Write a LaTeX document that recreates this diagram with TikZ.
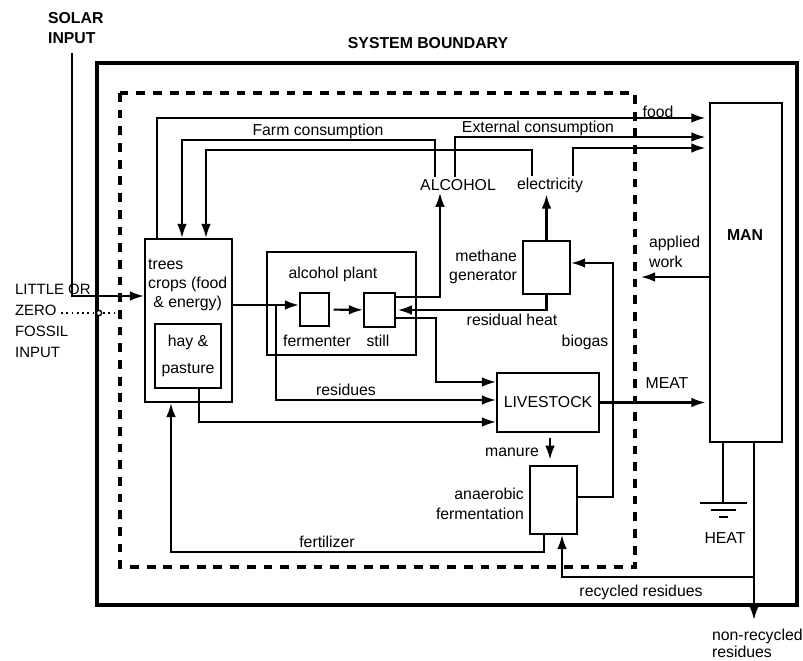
\documentclass[tikz,border=0pt]{standalone}
\usepackage{fontspec}
\setmainfont{Liberation Sans}
\usetikzlibrary{positioning,arrows.meta,calc}

\tikzset{
  box/.style={draw, line width=1.2pt, inner sep=0pt},
  lbl/.style={font=\fontsize{9}{11}\selectfont, inner sep=1pt},
  caps/.style={font=\fontsize{9}{11}\selectfont\bfseries, inner sep=1pt},
  link/.style={line width=1.2pt},
  flow/.style={line width=1.2pt, -{Latex[length=8pt,width=5.5pt]}},
}

\begin{document}
\begin{tikzpicture}[x=0.02cm, y=-0.02cm]
			\useasboundingbox (0,0) rectangle (803,661);
			% boundaries
			\draw[line width=2pt] (97,63) rectangle (797,605);
			\draw[line width=2pt, dash pattern=on 5pt off 4.5pt] (120,93) rectangle (635,567);
			\node[caps] (sysb) at (428,43) {SYSTEM BOUNDARY};
			\node[caps, align=left, anchor=west] (solar) at (46,28) {SOLAR\\INPUT};
			\node[lbl, font=\fontsize{8.5}{12}\selectfont, align=left, anchor=west] (fossil) at (13,321) {LITTLE OR\\ZERO\\FOSSIL\\INPUT};

			% boxes
			\node[box, minimum width=1.74cm, minimum height=3.26cm] (crops) at (188.5,320.5) {};
			\node[box, lbl, minimum width=1.32cm, minimum height=1.28cm, align=center] (hay) at (188,356) {hay \&\\[4pt]pasture};
			\node[box, minimum width=2.98cm, minimum height=2.06cm] (plant) at (341.5,303.5) {};
			\node[box, minimum width=0.58cm, minimum height=0.66cm] (ferm) at (314.5,309.5) {};
			\node[box, minimum width=0.62cm, minimum height=0.68cm] (still) at (379.5,310) {};
			\node[box, minimum width=0.94cm, minimum height=1.06cm] (methane) at (546.5,267.5) {};
			\node[box, lbl, minimum width=2.04cm, minimum height=1.18cm] (stock) at (548,402.5) {LIVESTOCK};
			\node[box, minimum width=0.94cm, minimum height=1.36cm] (anaer) at (553.5,500) {};
			\node[box, minimum width=1.44cm, minimum height=6.78cm] (man) at (746,272.5) {};

			% labels
			\node[lbl, align=left, anchor=west] at (146,285) {trees\\crops (food\\\hspace{3pt}\& energy)};
			\node[lbl] at (333,274) {alcohol plant};
			\node[lbl] at (317,341) {fermenter};
			\node[lbl] at (378,341) {still};
			\node[lbl] (alcohol) at (458,185) {ALCOHOL};
			\node[lbl] (elec) at (550,185) {electricity};
			\node[lbl] at (318,131) {Farm consumption};
			\node[lbl] at (538,128) {External consumption};
			\node[lbl] at (658,112) {food};
			\node[lbl, align=right, anchor=east] at (519,267) {methane\\generator};
			\node[lbl, align=left, anchor=west] at (647,252) {applied\\work};
			\node[caps] at (745,235) {MAN};
			\node[lbl] at (512,320) {residual heat};
			\node[lbl] at (585,342) {biogas};
			\node[lbl] at (346,390) {residues};
			\node[lbl] at (667,383) {MEAT};
			\node[lbl] at (512,452) {manure};
			\node[lbl, align=right, anchor=east] at (526,504) {anaerobic\\fermentation};
			\node[lbl] at (327,542) {fertilizer};
			\node[lbl] (heat) at (725,538) {HEAT};
			\node[lbl] at (641,592) {recycled residues};
			\node[lbl, font=\fontsize{9}{10}\selectfont, align=left, anchor=south west] at (710,660) {non-recycled\\residues};

			\coordinate (sun) at (72,53);
			\coordinate (oil) at (61,313);
			\coordinate (work) at (641,277);
			\coordinate (waste) at (754,620);
			\coordinate (gnd) at (723,503);

			% inputs
			\draw[flow] (sun) -- (72,296) -- (crops.west |- 72,296);
			\draw[dotted, line width=1pt] (oil) -- (116,313);
			\draw[fill=white, line width=0.8pt] (99,313) circle (1.5pt);

			% crops and alcohol plant
			\draw[flow] (crops.east |- 0,305) -- (ferm.west |- 0,305);
			\draw[flow] (276,305) |- (stock.west |- 0,400);
			\draw[flow, shorten <=2pt] (ferm) -- (still);
			\draw[flow] (still.east |- 0,297) -| (alcohol.south -| 440,0);
			\draw[flow] (still.east |- 0,318) -| (436,382) -- (stock.west |- 0,382);
			\draw[flow] (hay.south -| 199,0) |- (stock.west |- 0,422);

			% methane
			\draw[flow] (methane.north) -- (methane.north |- elec.south);
			\draw[flow] (methane.south) |- ([xshift=1pt]still.east |- 0,310);

			% livestock and fermentation
			\draw[flow] (stock.east) -- ([xshift=-2pt]man.west |- stock.east);
			\draw[flow, shorten <=3pt, shorten >=3pt] (stock.south -| 550,0) -- (anaer.north -| 550,0);
			\draw[flow] (anaer.east |- 0,497) -| (613,263) -- (methane.east |- 0,263);
			\draw[flow] (anaer.south -| 544,0) |- (171,552) -- (crops.south -| 171,0);

			% man
			\draw[flow] (man.west |- 0,277) -- (work);
			\draw[flow] (man.south -| 754,0) -- (waste);
			\draw[flow] (754,577) -| (anaer.south -| 562,0);
			\draw[link] (man.south -| 723,0) -- (gnd);
			\draw[link] (700,503) -- (747,503) (711,510) -- (736,510) (719,517) -- (728,517);

			% consumption
			\draw[flow] (crops.north -| 157,0) |- ([xshift=-2pt]man.west |- 0,118);
			\draw[flow] (alcohol.north -| 435,0) |- (182,140) -- (crops.north -| 182,0);
			\draw[flow] (alcohol.north -| 455,0) |- ([xshift=-2pt]man.west |- 0,137);
			\draw[flow] (elec.north -| 532,0) |- (206,150) -- (crops.north -| 206,0);
			\draw[flow] (elec.north -| 573,0) |- ([xshift=-2pt]man.west |- 0,148);
\end{tikzpicture}
\end{document}
